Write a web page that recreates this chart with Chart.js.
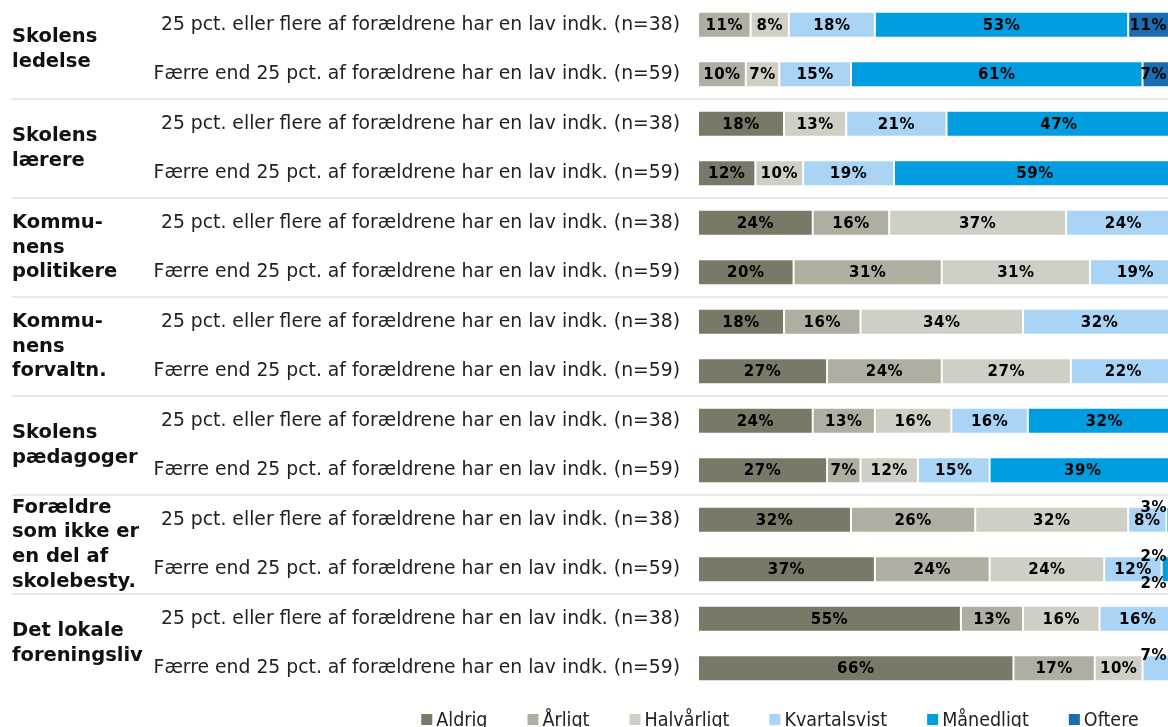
<!DOCTYPE html>
<html>

<head>
  <title>Kontakt til skolebestyrelsen</title>
  <meta charset="UTF-8">
  <script src="https://cdn.jsdelivr.net/npm/chart.js"></script>
  <style>
    body {
      margin: 0;
      background: #fff;
      overflow: hidden;
    }

    /* a little wider than the window: the last bar pixels run off the right edge */
    .chart-container {
      position: relative;
      width: 1176px;
      height: 727px;
    }
  </style>
</head>

<body>
  <div class="chart-container">
    <canvas id="mainChart"></canvas>
  </div>

  <script>
    // Groups (two rows each) and the two subgroup labels
    const groups = [
      ['Skolens', 'ledelse'],
      ['Skolens', 'lærere'],
      ['Kommu-', 'nens', 'politikere'],
      ['Kommu-', 'nens', 'forvaltn.'],
      ['Skolens', 'pædagoger'],
      ['Forældre', 'som ikke er', 'en del af', 'skolebesty.'],
      ['Det lokale', 'foreningsliv']
    ];
    const subgroups = [
      ' 25 pct. eller flere af forældrene har en lav indk. (n=38)',
      'Færre end 25 pct. af forældrene har en lav indk. (n=59)'
    ];

    const seriesNames = ['Aldrig', 'Årligt', 'Halvårligt', 'Kvartalsvist', 'Månedligt', 'Oftere'];
    const seriesColors = ['#7a7867', '#b0aea0', '#cfcfc6', '#a9d4f5', '#009de0', '#1a6db3'];

    // Percentages per row, 14 rows (group by group, n=38 first)
    const aldrig       = [0, 0, 18, 12, 24, 20, 18, 27, 24, 27, 32, 37, 55, 66];
    const aarligt      = [11, 10, 0, 0, 16, 31, 16, 24, 13, 7, 26, 24, 13, 17];
    const halvaarligt  = [8, 7, 13, 10, 37, 31, 34, 27, 16, 12, 32, 24, 16, 10];
    const kvartalsvist = [18, 15, 21, 19, 24, 19, 32, 22, 16, 15, 8, 12, 16, 7];
    const maanedligt   = [53, 61, 47, 59, 0, 0, 0, 0, 32, 39, 3, 2, 0, 0];
    const oftere       = [11, 7, 0, 0, 0, 0, 0, 0, 0, 0, 0, 2, 0, 0];

    const seriesValues = [aldrig, aarligt, halvaarligt, kvartalsvist, maanedligt, oftere];
    const rowLabels = groups.flatMap(() => subgroups);

    const LEGEND_CENTER_X = 780;

    // Bold group names on the left plus thin separators between groups
    const groupPlugin = {
      id: 'groupLabels',
      afterDraw(chart) {
        const ctx = chart.ctx;
        const y = chart.scales.y;
        ctx.save();
        ctx.strokeStyle = '#e8e8e8';
        ctx.lineWidth = 2;
        for (let g = 0; g < groups.length - 1; g++) {
          const sy = Math.round((y.getPixelForValue(2 * g + 1) + y.getPixelForValue(2 * g + 2)) / 2);
          ctx.beginPath();
          ctx.moveTo(12, sy);
          ctx.lineTo(chart.width, sy);
          ctx.stroke();
        }

        ctx.font = 'bold 19.5px "DejaVu Sans", Verdana, sans-serif';
        ctx.fillStyle = '#111';
        ctx.textAlign = 'left';
        ctx.textBaseline = 'middle';
        const lineHeight = 24.7;
        groups.forEach((lines, g) => {
          const cy = (y.getPixelForValue(2 * g) + y.getPixelForValue(2 * g + 1)) / 2;
          const top = cy - (lines.length - 1) * lineHeight / 2;
          lines.forEach((line, k) => ctx.fillText(line, 12, top + k * lineHeight));
        });
        ctx.restore();
      }
    };

    // Percent labels on the segments; crowded ones near the edge move up/down
    const valuePlugin = {
      id: 'valueLabels',
      afterDatasetsDraw(chart) {
        const ctx = chart.ctx;
        ctx.save();
        ctx.font = 'bold 15px "DejaVu Sans", Verdana, sans-serif';
        if ('letterSpacing' in ctx) ctx.letterSpacing = '0.5px';
        ctx.fillStyle = '#000';
        ctx.textAlign = 'left';
        ctx.textBaseline = 'middle';
        const maxRight = Math.min(chart.width, window.innerWidth) - 1;

        for (let i = 0; i < rowLabels.length; i++) {
          let prev = null;
          let shifts = 0;
          chart.data.datasets.forEach((ds, di) => {
            const v = ds.data[i];
            if (!v) return;
            const bar = chart.getDatasetMeta(di).data[i];
            const text = v + '%';
            const w = ctx.measureText(text).width;
            const cx = (bar.base + bar.x) / 2;
            let x0 = Math.min(cx - w / 2, maxRight - w);
            let dy = 0;
            if (prev && x0 < prev + 6) {
              shifts++;
              dy = shifts === 1 ? -13 : 14;
            }
            ctx.fillText(text, x0, bar.y + dy + 1);
            prev = x0 + w;
          });
        }
        ctx.restore();
      }
    };

    // Legend drawn as one centered row under the bars
    const legendPlugin = {
      id: 'bottomLegend',
      afterDraw(chart) {
        const ctx = chart.ctx;
        ctx.save();
        ctx.font = '19.5px "DejaVu Sans Condensed", "DejaVu Sans", sans-serif';
        ctx.textBaseline = 'alphabetic';
        const box = 11, gap = 4, spacing = 40;
        const widths = seriesNames.map(n => box + gap + ctx.measureText(n).width);
        const total = widths.reduce((a, b) => a + b, 0) + spacing * (widths.length - 1);
        let x = LEGEND_CENTER_X - total / 2;
        const baseline = chart.height - 1;
        seriesNames.forEach((name, k) => {
          ctx.fillStyle = seriesColors[k];
          ctx.fillRect(x, baseline - box - 1, box, box);
          ctx.fillStyle = '#222';
          ctx.fillText(name, x + box + gap, baseline);
          x += widths[k] + spacing;
        });
        ctx.restore();
      }
    };

    const ctx = document.getElementById('mainChart').getContext('2d');

    new Chart(ctx, {
      type: 'bar',
      data: {
        labels: rowLabels,
        datasets: seriesNames.map((name, k) => ({
          label: name,
          data: seriesValues[k].map(v => v || null),
          backgroundColor: seriesColors[k],
          borderColor: 'rgba(255,255,255,0.45)',
          borderWidth: 1,
          borderSkipped: false,
          barPercentage: 0.53,
          categoryPercentage: 1
        }))
      },
      options: {
        indexAxis: 'y',
        responsive: true,
        maintainAspectRatio: false,
        animation: false,
        layout: {
          padding: { top: 0, right: 0, bottom: 34, left: 0 }
        },
        scales: {
          x: {
            stacked: true,
            min: 0,
            max: 100,
            display: false
          },
          y: {
            stacked: true,
            grid: { display: false, drawTicks: false },
            border: { display: false },
            ticks: {
              padding: 18,
              color: '#222',
              font: { family: '"DejaVu Sans", Verdana, sans-serif', size: 18.8 }
            },
            afterFit(scale) {
              scale.width = 698;
              // category offset keeps the first/last labels inside, no extra room needed
              scale.paddingTop = 0;
              scale.paddingBottom = 0;
            }
          }
        },
        plugins: {
          legend: { display: false },
          tooltip: { enabled: false }
        }
      },
      plugins: [groupPlugin, valuePlugin, legendPlugin]
    });
  </script>
</body>

</html>
